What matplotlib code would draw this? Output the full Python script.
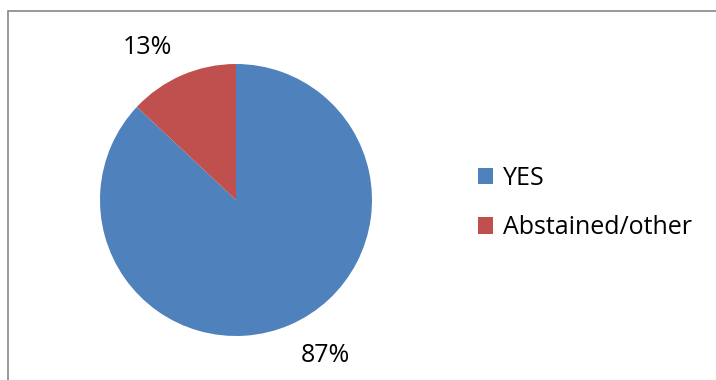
import matplotlib.pyplot as plt
from matplotlib.patches import Rectangle

# data
labels = ["YES", "Abstained/other"]
shares = [87, 13]
colors = ["#4F81BD", "#C0504D"]

plt.rcParams['font.family'] = ['Open Sans', 'DejaVu Sans']

fig = plt.figure(figsize=(7.16, 3.80), dpi=100)
W, H = 716, 380

# chart frame (only left and top edges are visible in the picture)
fig.patches.append(Rectangle((8 / W, -0.1), 1.2, (380 - 11) / H + 0.1, transform=fig.transFigure,
                             fill=False, edgecolor="#868686", linewidth=1.2))

# pie axes: centre (236, 200) px, radius 136 px
r = 136
ax = fig.add_axes([(236 - r) / W, (H - 200 - r) / H, 2 * r / W, 2 * r / H])
wedges, texts = ax.pie(shares, colors=colors, startangle=90, counterclock=False, radius=1,
                       wedgeprops=dict(linewidth=0))
ax.set_xlim(-1, 1)
ax.set_ylim(-1, 1)
ax.set_aspect("equal")
ax.axis("off")

# percent labels outside the slices
label_pos = [(0.654, -1.14), (-0.654, 1.125)]
for val, (x, y) in zip(shares, label_pos):
    ax.text(x, y, f"{val}%", ha="center", va="center", fontsize=18, clip_on=False)

leg = fig.legend(wedges, labels, loc="center left", bbox_to_anchor=(455 / W, 1 - 203 / H),
                 frameon=False, fontsize=18, handlelength=0.62, handleheight=0.62,
                 handletextpad=0.4, labelspacing=0.98)

fig.savefig("out.png", dpi=100)
